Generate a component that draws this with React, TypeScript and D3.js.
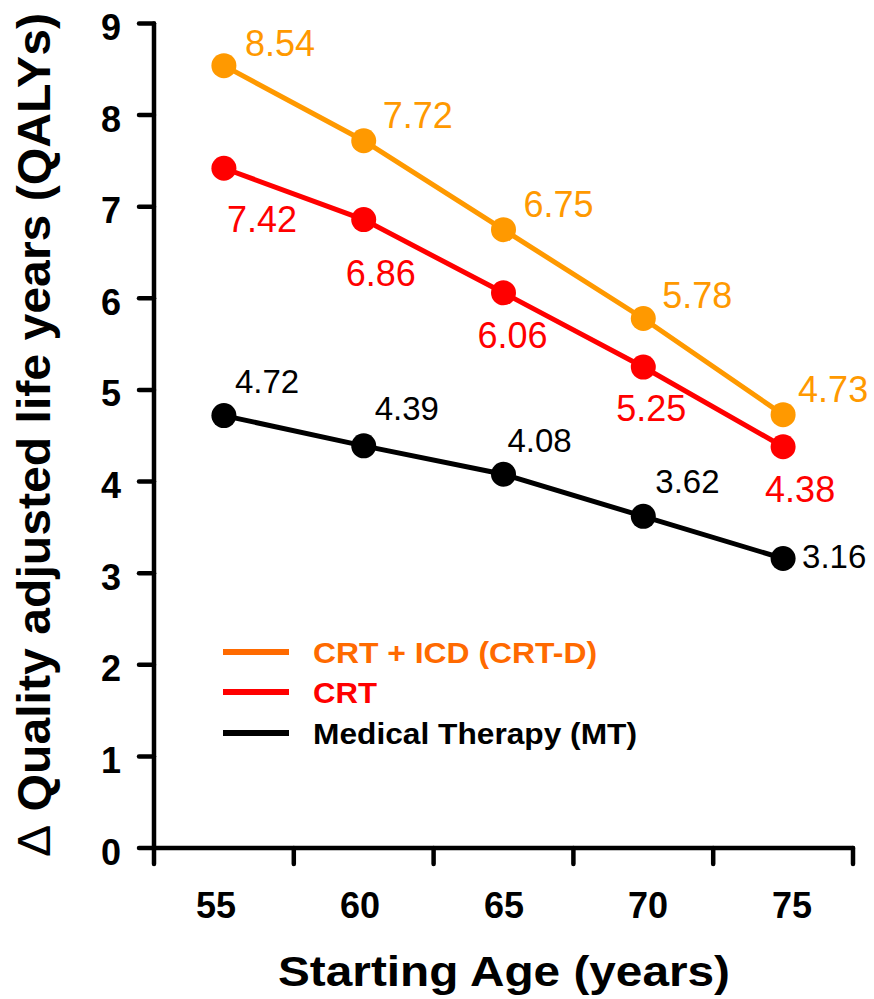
import React from 'react';
import * as d3 from 'd3';

// ---- data ----
const categories = ['55', '60', '65', '70', '75'];
const yTickValues = [0, 1, 2, 3, 4, 5, 6, 7, 8, 9];
const crtdValues = [8.54, 7.72, 6.75, 5.78, 4.73];
const crtValues = [7.42, 6.86, 6.06, 5.25, 4.38];
const mtValues = [4.72, 4.39, 4.08, 3.62, 3.16];
const seriesNames = ['CRT + ICD (CRT-D)', 'CRT', 'Medical Therapy (MT)'];
const xTitle = 'Starting Age (years)';
const yTitle = 'Quality adjusted life years (QALYs)';

// ---- layout (label offsets relative to each point) ----
const crtdLabelOffsets: [number, number][] = [[21, -10], [19, -13], [20, -13], [19, -10], [15, -13]];
const crtLabelOffsets: [number, number][] = [[3, 64], [-18, 66], [-26, 55], [-27, 54], [-18, 55]];
const mtLabelOffsets: [number, number][] = [[11, -23], [11, -26], [4, -22], [12, -23], [19, 9]];
const legendTextLengths = [284, 64, 324];
const legendYs = [652, 692, 733];

const W = 874;
const H = 999;
const FONT = 'Liberation Sans, Arial, Helvetica, sans-serif';

export default function App() {
  const x = d3.scaleBand<string>().domain(categories).range([154, 853]).paddingInner(0).paddingOuter(0);
  const xLabel = d3.scalePoint<string>().domain(categories).range([216, 792]);
  const y = d3.scaleLinear().domain([0, 9]).range([848, 23.5]);
  const cx = (c: string) => (x(c) as number) + x.bandwidth() / 2;

  const line = d3
    .line<number>()
    .x((_, i) => cx(categories[i]))
    .y((v) => y(v));

  const series = [
    { name: seriesNames[0], values: crtdValues, color: '#FF9900', legendColor: '#FF6A00', offsets: crtdLabelOffsets, fs: 36 },
    { name: seriesNames[1], values: crtValues, color: '#FF0000', legendColor: '#FF0000', offsets: crtLabelOffsets, fs: 36 },
    { name: seriesNames[2], values: mtValues, color: '#000000', legendColor: '#000000', offsets: mtLabelOffsets, fs: 33 },
  ];

  const xTickPositions = [...categories.map((c) => x(c) as number), 853];

  return (
    <svg
      width={W}
      height={H}
      viewBox={`0 0 ${W} ${H}`}
      style={{ position: 'absolute', left: 0, top: 0, background: '#fff' }}
      fontFamily={FONT}
    >
      <rect x={0} y={0} width={W} height={H} fill="#fff" />

      {/* Y axis */}
      <line x1={154} x2={154} y1={y(0)} y2={y(9)} stroke="#000" strokeWidth={4.5} strokeLinecap="round" />
      {yTickValues.map((t) => (
        <g key={'yt' + t}>
          <line x1={139} x2={154} y1={y(t)} y2={y(t)} stroke="#000" strokeWidth={4.5} strokeLinecap="round" />
          <text x={121} y={y(t) + 16.5} textAnchor="end" fontSize={36} fontWeight="bold" fill="#000">
            {t}
          </text>
        </g>
      ))}

      {/* X axis */}
      <line x1={154} x2={853} y1={y(0)} y2={y(0)} stroke="#000" strokeWidth={4.5} strokeLinecap="round" />
      {xTickPositions.map((p, i) => (
        <line key={'xt' + i} x1={p} x2={p} y1={y(0)} y2={864} stroke="#000" strokeWidth={4.5} strokeLinecap="round" />
      ))}
      {categories.map((c) => (
        <text key={'xl' + c} x={xLabel(c)} y={918} textAnchor="middle" fontSize={36} fontWeight="bold" fill="#000">
          {c}
        </text>
      ))}

      {/* Axis titles */}
      <text x={504} y={986} textAnchor="middle" fontSize={42} fontWeight="bold" fill="#000" textLength={452} lengthAdjust="spacingAndGlyphs">
        {xTitle}
      </text>
      <text
        transform={`translate(50, 435) rotate(-90)`}
        textAnchor="middle"
        fontSize={47}
        fontWeight="bold"
        fill="#000"
        textLength={844}
        lengthAdjust="spacingAndGlyphs"
      >
        <tspan fontWeight="normal">{'\u0394'}</tspan>
        {' ' + yTitle}
      </text>

      {/* Series */}
      {series.map((s) => (
        <g key={s.name}>
          <path d={line(s.values) as string} fill="none" stroke={s.color} strokeWidth={5} />
          {s.values.map((v, i) => (
            <circle key={i} cx={cx(categories[i])} cy={y(v)} r={12.5} fill={s.color} />
          ))}
          {s.values.map((v, i) => (
            <text
              key={'l' + i}
              x={cx(categories[i]) + s.offsets[i][0]}
              y={y(v) + s.offsets[i][1]}
              fontSize={s.fs}
              fill={s.color}
            >
              {v.toFixed(2)}
            </text>
          ))}
        </g>
      ))}

      {/* Legend */}
      {series.map((s, i) => {
        const ly = legendYs[i];
        return (
          <g key={'lg' + i}>
            <line x1={223} x2={289} y1={ly} y2={ly} stroke={s.legendColor} strokeWidth={6} />
            <text
              x={313}
              y={ly + 11}
              fontSize={29}
              fontWeight="bold"
              fill={s.legendColor}
              textLength={legendTextLengths[i]}
              lengthAdjust="spacingAndGlyphs"
            >
              {s.name}
            </text>
          </g>
        );
      })}
    </svg>
  );
}
